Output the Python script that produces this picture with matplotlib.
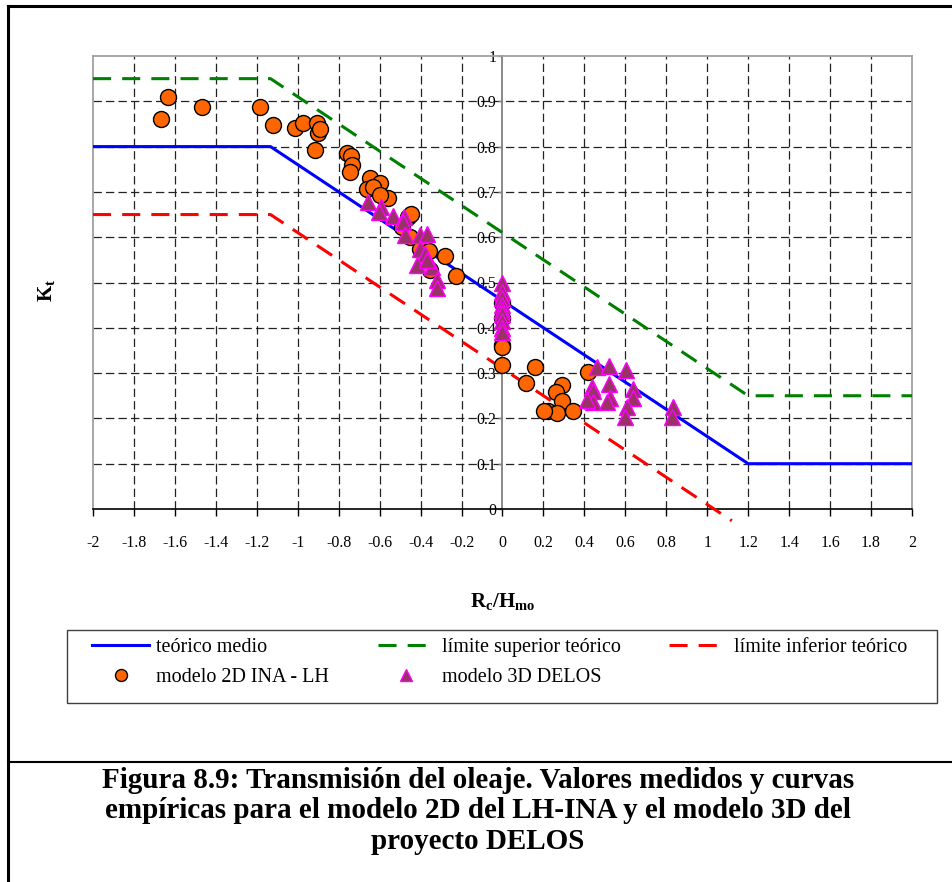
import matplotlib
matplotlib.use('Agg')
import matplotlib.pyplot as plt
from matplotlib.lines import Line2D
from matplotlib.patches import Rectangle

plt.rcParams['font.family'] = 'Liberation Serif'
plt.rcParams['mathtext.fontset'] = 'custom'
plt.rcParams['mathtext.rm'] = 'Liberation Serif'
plt.rcParams['mathtext.bf'] = 'Liberation Serif:bold'
plt.rcParams['lines.scale_dashes'] = False

# theoretical curves (break points)
medio_x = [-2, -1.133, 1.2, 2]
medio_y = [0.8, 0.8, 0.1, 0.1]
sup_x = [-2, -1.133, 1.2, 2]
sup_y = [0.95, 0.95, 0.25, 0.25]
inf_x = [-2, -1.133, 1.12]
inf_y = [0.65, 0.65, -0.026]

# modelo 2D INA - LH
ina_x = [-1.67, -1.635, -1.47, -1.184, -1.122, -1.013, -0.973, -0.904, -0.903,
         -0.891, -0.916, -0.761, -0.74, -0.737, -0.745, -0.647, -0.598, -0.663,
         -0.632, -0.558, -0.598, -0.46, -0.447, -0.492, -0.452, -0.403, -0.357,
         -0.281, -0.354, -0.227, 0.0, 0.0, 0.0, 0.0, 0.0, 0.159, 0.115, 0.289,
         0.261, 0.289, 0.224, 0.265, 0.346, 0.203, 0.419]
ina_y = [0.862, 0.909, 0.887, 0.887, 0.847, 0.84, 0.851, 0.851, 0.831,
         0.838, 0.792, 0.785, 0.779, 0.759, 0.745, 0.731, 0.719, 0.706,
         0.711, 0.686, 0.693, 0.645, 0.651, 0.623, 0.6, 0.575, 0.57,
         0.559, 0.528, 0.514, 0.454, 0.421, 0.362, 0.357, 0.318, 0.313, 0.279, 0.274,
         0.259, 0.239, 0.217, 0.211, 0.217, 0.217, 0.303]

# modelo 3D DELOS
delos_x = [-0.655, -0.593, -0.602, -0.533, -0.481, -0.487, -0.476, -0.403, -0.37,
           -0.403, -0.379, -0.419, -0.346, -0.37, -0.321, -0.318,
           0, 0, 0, 0, 0, 0, 0, 0, 0,
           0.46, 0.522, 0.602, 0.436, 0.44, 0.444, 0.411, 0.522, 0.525, 0.509,
           0.636, 0.636, 0.606, 0.598, 0.834, 0.826]
delos_y = [0.678, 0.667, 0.656, 0.647, 0.645, 0.634, 0.605, 0.605, 0.606,
           0.575, 0.564, 0.539, 0.535, 0.55, 0.506, 0.487,
           0.5, 0.48, 0.465, 0.45, 0.44, 0.43, 0.415, 0.4, 0.39,
           0.314, 0.316, 0.307, 0.27, 0.26, 0.237, 0.241, 0.277, 0.244, 0.237,
           0.266, 0.244, 0.226, 0.204, 0.226, 0.204]

xticks = [-2, -1.8, -1.6, -1.4, -1.2, -1, -0.8, -0.6, -0.4, -0.2, 0,
          0.2, 0.4, 0.6, 0.8, 1, 1.2, 1.4, 1.6, 1.8, 2]
yticks = [0, 0.1, 0.2, 0.3, 0.4, 0.5, 0.6, 0.7, 0.8, 0.9, 1]

W, H = 953, 882
fig = plt.figure(figsize=(W / 100, H / 100), dpi=100)
ax = fig.add_axes([93 / W, 1 - 509 / H, (912 - 93) / W, (509 - 56) / H])
ax.set_xlim(-2, 2)
ax.set_ylim(0, 1)

# grid
for xv in xticks[1:-1]:
    if xv != 0:
        ax.axvline(xv, color='#222222', lw=0.9, dashes=(6, 3), zorder=1)
for yv in yticks[1:-1]:
    ax.axhline(yv, color='#222222', lw=0.9, dashes=(6, 3), zorder=1)

# spines
ax.spines['left'].set_position(('data', 0))
ax.spines['left'].set_color('#808080')
ax.spines['left'].set_linewidth(1.3)
for s in ['top', 'right']:
    ax.spines[s].set_color('#a0a0a0')
    ax.spines[s].set_linewidth(1.3)
ax.spines['bottom'].set_color('black')
ax.spines['bottom'].set_linewidth(1.2)
ax.axvline(-2, color='#a0a0a0', lw=1.3, clip_on=False, zorder=2)

ax.set_xticks(xticks)
ax.set_xticklabels(['%g' % v for v in xticks])
ax.set_yticks(yticks)
ax.set_yticklabels(['%g' % v for v in yticks])
ax.tick_params(axis='x', direction='out', length=5, width=1, pad=14, labelsize=11.5)
ax.tick_params(axis='y', direction='out', length=3, width=1, pad=1.5, labelsize=11.5,
               color='#808080')

# curves
ax.plot(medio_x, medio_y, color='#0000FF', lw=2.2, zorder=3, label='teórico medio')
ax.plot(sup_x, sup_y, color='#008000', lw=2.2, dashes=(13, 8), zorder=3,
        label='límite superior teórico')
ax.plot(inf_x, inf_y, color='#FF0000', lw=2.2, dashes=(13, 8), zorder=3,
        clip_on=False, label='límite inferior teórico')

ax.plot(ina_x, ina_y, 'o', ms=11.5, mfc='#FF6600', mec='black', mew=1.0,
        zorder=4, label='modelo 2D INA - LH')
ax.plot(delos_x, delos_y, '^', ms=11, mfc='#993366', mec='#FF00FF', mew=1.0,
        zorder=5, label='modelo 3D DELOS')

# axis labels
fig.text(503 / W, 1 - 602 / H, r'$\mathbf{R_c/H_{mo}}$', ha='center', va='center',
         fontsize=15)
fig.text(47 / W, 1 - 290 / H, r'$\mathbf{K_t}$', ha='center', va='center',
         fontsize=15, rotation=90)

# legend
h, l = ax.get_legend_handles_labels()
order = [0, 3, 1, 4, 2]
fig.patches.append(Rectangle((67 / W, 1 - 703 / H), (937 - 67) / W, (703 - 630) / H,
                             transform=fig.transFigure, fill=False, ec='#404040',
                             lw=1.0))
fig.legend([h[i] for i in order], [l[i] for i in order], ncol=3, frameon=False,
           loc='upper left', bbox_to_anchor=(88 / W, 1 - 634 / H),
           fontsize=14.5, handlelength=2.85, handletextpad=0.35, columnspacing=2.4,
           labelspacing=0.55, markerscale=0.75, borderpad=0.2, borderaxespad=0)

# borders
fig.add_artist(Line2D([8 / W, 8 / W], [0, 1 - 6 / H], color='black', lw=2.2))
fig.add_artist(Line2D([8 / W, 1], [1 - 6 / H, 1 - 6 / H], color='black', lw=2.2))
fig.add_artist(Line2D([8 / W, 1], [1 - 762 / H, 1 - 762 / H], color='black', lw=1.5))

# caption
fig.text(478 / W, 1 - 811 / H,
         'Figura 8.9: Transmisión del oleaje. Valores medidos y curvas\n'
         'empíricas para el modelo 2D del LH-INA y el modelo 3D del\n'
         'proyecto DELOS',
         ha='center', va='center', fontsize=21, fontweight='bold', linespacing=1.16)

fig.savefig('out.png', dpi=100)
